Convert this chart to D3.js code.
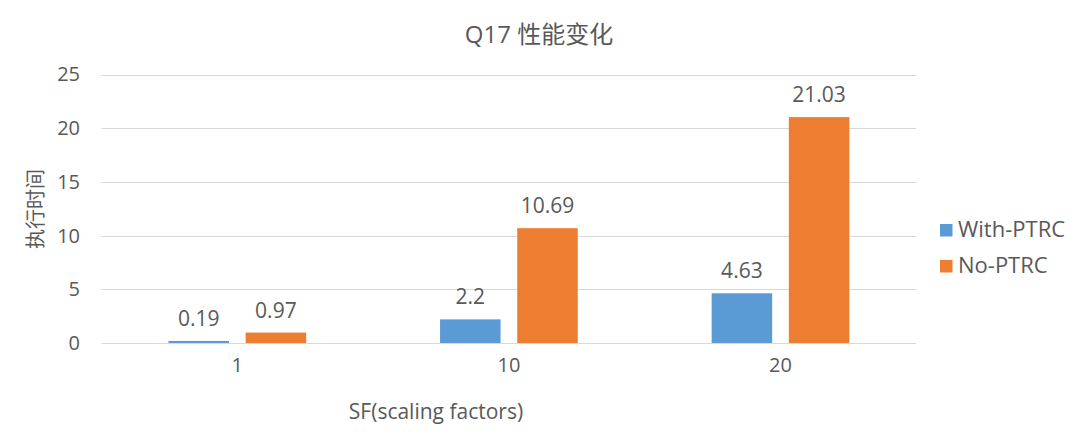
<!DOCTYPE html>
<html><head><meta charset="utf-8">
<script src="https://cdn.jsdelivr.net/npm/d3@7"></script>
<style>
html,body{margin:0;padding:0;background:#fff;}
svg{display:block;font-family:"Open Sans","Noto Sans CJK SC",sans-serif;}
</style></head>
<body>
<svg id="chart" width="1080" height="441"></svg>
<script>
const categories = ["1", "10", "20"];
const seriesNames = ["With-PTRC", "No-PTRC"];
const withPTRC = [0.19, 2.2, 4.63];
const noPTRC = [0.97, 10.69, 21.03];
const yTicks = [0, 5, 10, 15, 20, 25];
const colors = ["#5B9BD5", "#ED7D31"];
const title = "Q17 性能变化";
const yTitle = "执行时间";
const xTitle = "SF(scaling factors)";

const seriesValues = [withPTRC, noPTRC];
const svg = d3.select("#chart");
const textColor = "#595959";
const FONT = '"Open Sans","Noto Sans CJK SC",sans-serif';

const x0 = d3.scaleBand().domain(categories).range([101.5, 916.3]).padding(0);
const bw = x0.bandwidth();
const x1 = d3.scaleBand().domain(seriesNames).range([bw * 0.2465, bw * 0.7535]).paddingInner(0.216).paddingOuter(0);
const y = d3.scaleLinear().domain([0, 25]).range([343, 74.5]);

// gridlines
svg.append("g").selectAll("line").data(yTicks).join("line")
  .attr("x1", x0.range()[0]).attr("x2", x0.range()[1])
  .attr("y1", d => Math.round(y(d)) + 0.5).attr("y2", d => Math.round(y(d)) + 0.5)
  .attr("stroke", "#D9D9D9").attr("stroke-width", 1);

// y axis labels
const yAxis = d3.axisLeft(y).tickValues(yTicks).tickSize(0).tickPadding(0);
const gy = svg.append("g").attr("transform", "translate(80,0)").call(yAxis);
gy.select(".domain").remove();
gy.selectAll("text").attr("fill", textColor).style("font-size", "20px").style("font-family", FONT);

// x axis labels
const xAxis = d3.axisBottom(x0).tickSize(0).tickPadding(0);
const gx = svg.append("g").attr("transform", "translate(0,358)").call(xAxis);
gx.select(".domain").remove();
gx.selectAll("text").attr("fill", textColor).style("font-size", "20px").style("font-family", FONT);

// bars
const groups = svg.append("g").selectAll("g").data(categories).join("g")
  .attr("transform", d => `translate(${x0(d)},0)`);
seriesNames.forEach((s, si) => {
  groups.append("rect")
    .attr("x", x1(s)).attr("width", x1.bandwidth())
    .attr("y", (d, i) => y(seriesValues[si][i]))
    .attr("height", (d, i) => y(0) - y(seriesValues[si][i]))
    .attr("fill", colors[si]);
  groups.append("text")
    .attr("x", x1(s) + x1.bandwidth() / 2)
    .attr("y", (d, i) => y(seriesValues[si][i]) - 15)
    .attr("text-anchor", "middle").attr("fill", textColor)
    .style("font-size", "21px")
    .text((d, i) => seriesValues[si][i]);
});

// title
svg.append("text").attr("x", 539).attr("y", 43).attr("text-anchor", "middle")
  .attr("fill", textColor).style("font-size", "24px").text(title);

// y title
svg.append("text").attr("transform", "translate(43,209) rotate(-90)")
  .attr("text-anchor", "middle").attr("fill", textColor)
  .style("font-size", "20px").text(yTitle);

// x title
svg.append("text").attr("x", 436).attr("y", 419).attr("text-anchor", "middle")
  .attr("fill", textColor).style("font-size", "21px").text(xTitle);

// legend
const leg = svg.append("g").selectAll("g").data(seriesNames).join("g")
  .attr("transform", (d, i) => `translate(940,${224 + i * 36})`);
leg.append("rect").attr("width", 12.5).attr("height", 12.5).attr("fill", (d, i) => colors[i]);
leg.append("text").attr("x", 18).attr("y", 13).attr("fill", textColor)
  .style("font-size", "22px").text(d => d);
</script>
</body></html>
